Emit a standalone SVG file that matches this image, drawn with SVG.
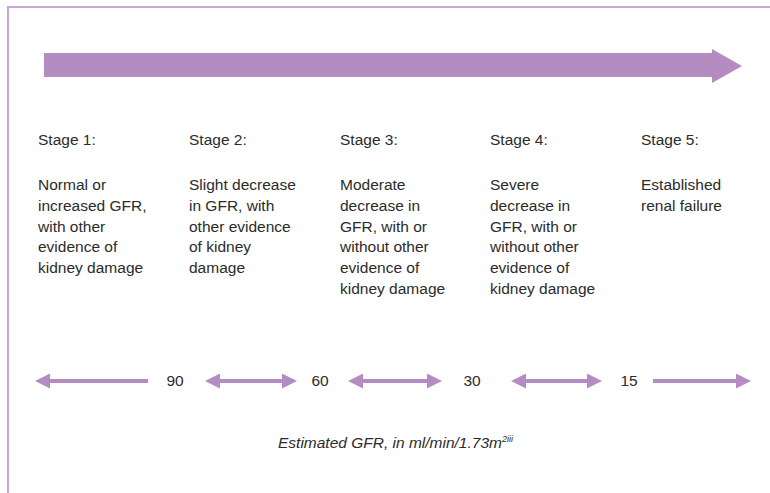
<svg xmlns="http://www.w3.org/2000/svg" width="770" height="493" viewBox="0 0 770 493">
<style>
  .t { font-family: "Liberation Sans", Arial, sans-serif; font-size: 15.5px; fill: #2b2b2b; }
  .n { font-family: "Liberation Sans", Arial, sans-serif; font-size: 15.5px; fill: #2b2b2b; text-anchor: middle; }
  .cap { font-family: "Liberation Sans", Arial, sans-serif; font-size: 15.5px; font-style: italic; fill: #2b2b2b; }
  .ln { stroke: #b48cc2; stroke-width: 4; fill: none; }
</style>
<defs>
  <marker id="ah" viewBox="0 0 15 15" refX="2" refY="7.5" markerWidth="15" markerHeight="15" markerUnits="userSpaceOnUse" orient="auto-start-reverse">
    <path d="M0,0 L15,7.5 L0,15 Z" fill="#b48cc2"/>
  </marker>
</defs>
<rect width="770" height="493" fill="#ffffff"/>
<path d="M8,493 L8,7 L770,7" fill="none" stroke="#c9a6d6" stroke-width="2"/>
<g id="progress-arrow">
  <path d="M44,53 L712,53 L712,49 L742,66 L712,83 L712,77 L44,77 Z" fill="#b48cc2"/>
</g>
<g id="stage1">
  <text class="t" x="38" y="145">Stage 1:</text>
  <text class="t" x="38" y="190">Normal or</text>
  <text class="t" x="38" y="211">increased GFR,</text>
  <text class="t" x="38" y="232">with other</text>
  <text class="t" x="38" y="252">evidence of</text>
  <text class="t" x="38" y="273">kidney damage</text>
</g>
<g id="stage2">
  <text class="t" x="189" y="145">Stage 2:</text>
  <text class="t" x="189" y="190">Slight decrease</text>
  <text class="t" x="189" y="211">in GFR, with</text>
  <text class="t" x="189" y="232">other evidence</text>
  <text class="t" x="189" y="252">of kidney</text>
  <text class="t" x="189" y="273">damage</text>
</g>
<g id="stage3">
  <text class="t" x="340" y="145">Stage 3:</text>
  <text class="t" x="340" y="190">Moderate</text>
  <text class="t" x="340" y="211">decrease in</text>
  <text class="t" x="340" y="232">GFR, with or</text>
  <text class="t" x="340" y="252">without other</text>
  <text class="t" x="340" y="273">evidence of</text>
  <text class="t" x="340" y="294">kidney damage</text>
</g>
<g id="stage4">
  <text class="t" x="490" y="145">Stage 4:</text>
  <text class="t" x="490" y="190">Severe</text>
  <text class="t" x="490" y="211">decrease in</text>
  <text class="t" x="490" y="232">GFR, with or</text>
  <text class="t" x="490" y="252">without other</text>
  <text class="t" x="490" y="273">evidence of</text>
  <text class="t" x="490" y="294">kidney damage</text>
</g>
<g id="stage5">
  <text class="t" x="641" y="145">Stage 5:</text>
  <text class="t" x="641" y="190">Established</text>
  <text class="t" x="641" y="211">renal failure</text>
</g>
<g id="connectors">
  <line class="ln" x1="148" y1="381" x2="48" y2="381" marker-end="url(#ah)"/>
  <line class="ln" x1="218" y1="381" x2="284" y2="381" marker-start="url(#ah)" marker-end="url(#ah)"/>
  <line class="ln" x1="361" y1="381" x2="429" y2="381" marker-start="url(#ah)" marker-end="url(#ah)"/>
  <line class="ln" x1="524" y1="381" x2="589" y2="381" marker-start="url(#ah)" marker-end="url(#ah)"/>
  <line class="ln" x1="653" y1="381" x2="738" y2="381" marker-end="url(#ah)"/>
</g>
<g id="scale-labels">
  <text class="n" x="175" y="386">90</text>
  <text class="n" x="320" y="386">60</text>
  <text class="n" x="472" y="386">30</text>
  <text class="n" x="629" y="386">15</text>
</g>
<g id="caption">
  <text class="cap" x="278" y="448">Estimated GFR, in ml/min/1.73m<tspan font-size="9" dy="-6">2iii</tspan></text>
</g>
</svg>
